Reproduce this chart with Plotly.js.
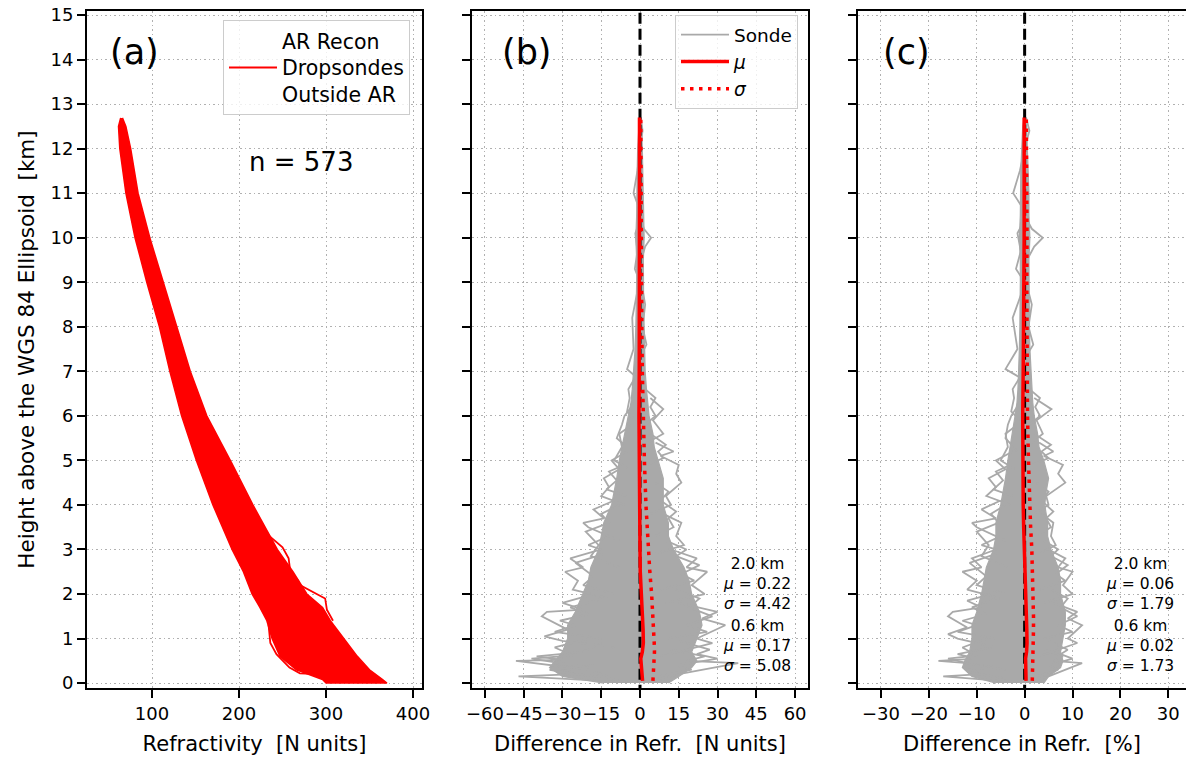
<!DOCTYPE html>
<html>
<head>
<meta charset="utf-8">
<script src="https://cdn.plot.ly/plotly-3.0.1.min.js"></script>
<style>html,body{margin:0;padding:0;background:#fff;}#chart{width:1186px;height:759px;}</style>
</head>
<body>
<div id="chart"></div>
<script>
// ---------------- DATA ----------------
// Panel (a): envelope of the 573 refractivity profiles
const aHeights = [12.69, 12.5, 12.0, 11.0, 10.0, 9.0, 8.0, 7.0, 6.0, 5.0, 4.0, 3.0, 2.5, 2.0, 1.7, 1.4, 1.0, 0.6, 0.3, 0.08, 0.0];
const aLeftN   = [64, 61.5, 63, 70, 80.5, 94, 108.5, 120.5, 134, 151, 170, 192, 205, 215, 224, 232, 238, 247, 266, 296, 300];
const aRightN  = [66, 70, 75.5, 84, 97.5, 113, 128.5, 144, 163, 190, 216, 244, 262, 278, 296, 305, 320, 336, 350, 365, 370];
// outlying profiles (N units, height km)
const aLoop1 = [[232,3.35],[250,3.05],[257,2.8],[259,2.5],[268,2.3],[270,2.2],[299,1.9],[301,1.65],[308,1.4]];
const aLoop2 = [[236,1.45],[234,1.3],[236,0.9],[243,0.65],[258,0.35],[270,0.22],[290,0.2],[293,0.14],[300,0.1]];

// Panels (b),(c): envelope of the dense core of sonde differences
const envH = [0, 0.15, 0.35, 0.5, 0.7, 1.0, 1.3, 1.6, 2.0, 2.3, 2.6, 3.0, 3.3, 3.6, 4.0, 4.3, 4.6, 5.0, 5.3, 5.6, 6.0, 6.3, 6.6, 7.0, 7.5, 8.0, 8.5, 9.0, 9.5, 10.0, 10.5, 11.0, 11.5, 12.0, 12.5, 12.7];
const coreLeftB  = [-14, -30, -35, -33, -30, -28, -28, -25, -22, -20, -19, -16, -15, -14, -11, -10, -9, -8, -7, -6, -4.5, -3.5, -3, -2.4, -1.9, -1.6, -1.4, -1.3, -1.3, -1.6, -1.3, -1.3, -1.1, -0.9, -0.6, -0.2];
const coreRightB = [11, 15, 20, 22, 20, 22, 24, 23, 20, 19, 17, 13, 11, 11, 9, 9, 9, 7, 5.5, 5, 3.5, 3, 2.5, 2, 1.8, 1.6, 1.4, 1.3, 1.3, 1.6, 1.3, 1.3, 1.1, 0.9, 0.6, 0.3];
const coreLeftC  = [-6, -11, -13, -12.5, -11.5, -11, -11, -10, -9, -8.5, -8, -6.5, -6, -6, -5, -4.5, -4, -3.5, -3, -2.6, -2, -1.6, -1.4, -1.2, -1.1, -1, -0.9, -0.9, -0.9, -1.1, -0.9, -0.9, -0.8, -0.6, -0.4, -0.1];
const coreRightC = [4, 5, 7.5, 8, 7.5, 8, 8.5, 8.5, 7.5, 7.5, 7, 5.5, 4.8, 4.8, 4.2, 4.5, 5, 4, 3, 2.7, 2, 1.7, 1.5, 1.3, 1.1, 1.0, 0.9, 0.9, 0.9, 1.1, 0.9, 0.9, 0.8, 0.6, 0.4, 0.2];

// individual outlying sonde difference profiles, panel (b) [N units, km]
const sondeB1  = [[-8,0.05],[-20,0.3],[-48,0.5],[-30,0.52],[-40,0.6],[-22,0.7],[-15,0.9]];
const sondeB2  = [[-5,0.02],[-47,0.15],[-25,0.2],[-35,0.3],[-18,0.4]];
const sondeB3  = [[-10,0.8],[-30,0.95],[-37,1.05],[-28,1.2],[-38,1.5],[-36,1.6],[-22,1.65],[-30,1.8],[-18,2.0]];
const sondeB4  = [[-12,1.9],[-26,2.1],[-24,2.3],[-29,2.5],[-22,2.6],[-27,2.8],[-15,3.0],[-20,3.1],[-12,3.3]];
const sondeB5  = [[-8,3.2],[-20,3.5],[-22,3.6],[-14,3.7],[-18,3.9],[-10,4.1]];
const sondeB6  = [[-6,4.0],[-15,4.2],[-12,4.4],[-14,4.6],[-8,4.8],[-11,5.0],[-5,5.2]];
const sondeB7  = [[-3,5.2],[-9,5.5],[-7,5.8],[-6,6.0],[-2,6.3]];
const sondeB8  = [[5,0.05],[15,0.2],[38,0.45],[18,0.5],[25,0.6],[12,0.75]];
const sondeB9  = [[8,0.6],[28,0.9],[22,1.0],[33,1.3],[24,1.45],[30,1.6],[15,1.8]];
const sondeB10 = [[10,1.8],[25,2.0],[20,2.2],[26,2.5],[18,2.6],[22,2.8],[12,3.0]];
const sondeB11 = [[6,2.9],[17,3.1],[14,3.3],[16,3.6],[9,3.8]];
const sondeB12 = [[4,3.8],[12,4.0],[10,4.2],[16,4.5],[14,4.7],[15,4.9],[8,5.1],[13,5.2],[6,5.4]];
const sondeB13 = [[3,5.4],[9,5.6],[5,5.9],[9,6.15],[4,6.4]];
const sondeB14 = [[0,6.8],[-5,7.05],[-2.5,7.5],[-3,8.2],[-1,8.8]];
const sondeB15 = [[0,9.4],[2,9.8],[4.3,10.0],[1.5,10.2],[0,10.5]];
const sondeB16 = [[0,10.6],[-2.5,11.0],[-1,11.5],[0,12.0]];
const sondeB17 = [[0,12.0],[1,12.4],[0.3,12.7]];
const sondeB18 = [[-10,0.1],[-32,0.25],[-20,0.35],[-42,0.55],[-26,0.62],[-33,0.8],[-20,1.0]];
const sondeB19 = [[-15,1.0],[-33,1.15],[-25,1.3],[-31,1.4],[-20,1.55],[-27,1.7],[-14,1.9]];
const sondeB20 = [[-10,2.0],[-22,2.2],[-18,2.4],[-25,2.7],[-14,2.9]];
const sondeB21 = [[-8,2.6],[-19,2.85],[-16,3.1],[-21,3.4],[-12,3.6],[-15,3.8],[-8,4.0]];
const sondeB22 = [[-5,4.2],[-13,4.35],[-9,4.55],[-12,4.75],[-6,4.9]];
const sondeB23 = [[-4,4.8],[-10,5.0],[-7,5.3],[-8,5.6],[-3,5.8]];
const sondeB24 = [[3,0.1],[20,0.3],[14,0.4],[30,0.55],[22,0.65],[27,0.75],[15,0.95]];
const sondeB25 = [[10,1.0],[26,1.15],[18,1.3],[28,1.5],[19,1.7],[23,1.9],[14,2.1]];
const sondeB26 = [[8,2.1],[21,2.3],[16,2.45],[23,2.65],[14,2.85],[18,3.0],[10,3.2]];
const sondeB27 = [[6,3.3],[13,3.5],[11,3.7],[14,3.85],[8,4.1],[11,4.3],[6,4.5]];
const sondeB28 = [[3,4.9],[9,5.05],[7,5.2],[10,5.35],[4,5.6]];
const sondeB29 = [[2,5.8],[6,6.0],[4,6.2],[6,6.4],[2,6.6]];
const sondeB30 = [[-2,5.9],[-5,6.1],[-4,6.4],[-4.5,6.6],[-1.5,6.9]];
const sondeB31 = [[-1,7.2],[2.5,7.6],[1,8.0],[2,8.5],[0.5,9.0]];
const sondeB32 = [[0,9.0],[-2,9.3],[-1,9.7],[-1.8,10.1],[0,10.4]];

// individual outlying sonde difference profiles, panel (c) [%, km]
const sondeC1  = [[-5,0.05],[-17,0.15],[-9,0.2],[-12,0.3],[-6,0.4]];
const sondeC2  = [[-4,0.3],[-12,0.45],[-18,0.5],[-10,0.55],[-14,0.65],[-7,0.8]];
const sondeC3  = [[-6,0.8],[-14,1.0],[-16,1.1],[-12,1.25],[-16,1.5],[-15,1.6],[-9,1.7],[-12,1.85],[-7,2.0]];
const sondeC4  = [[-5,1.9],[-12,2.1],[-10,2.3],[-13,2.5],[-9,2.6],[-11,2.8],[-6,3.0],[-9,3.1],[-5,3.3]];
const sondeC5  = [[-4,3.2],[-10,3.5],[-11,3.6],[-6,3.7],[-9,3.9],[-5,4.1]];
const sondeC6  = [[-3,4.0],[-8,4.2],[-6,4.4],[-7.5,4.6],[-4,4.8],[-6,5.0],[-2.5,5.2]];
const sondeC7  = [[-1.5,5.2],[-4,5.5],[-3.5,5.8],[-2.8,6.0],[-1,6.3]];
const sondeC8  = [[2,0.05],[5,0.15],[12,0.45],[6,0.5],[8,0.6],[4,0.75]];
const sondeC9  = [[3,0.6],[11,0.9],[9,1.0],[12,1.3],[9,1.45],[11,1.6],[6,1.8]];
const sondeC10 = [[4,1.8],[10,2.0],[8,2.2],[10,2.5],[7,2.6],[8.5,2.8],[5,3.0]];
const sondeC11 = [[3,2.9],[6.5,3.1],[5.5,3.3],[6,3.6],[3.5,3.8]];
const sondeC12 = [[2,3.8],[5,4.0],[4.5,4.2],[8.5,4.5],[7,4.7],[8,4.9],[4,5.1],[6,5.2],[3,5.4]];
const sondeC13 = [[1.5,5.4],[3.8,5.6],[2.5,5.9],[5.6,6.15],[2,6.4]];
const sondeC14 = [[0,6.8],[-4,7.05],[-1.5,7.5],[-2.5,8.2],[-0.5,8.8]];
const sondeC15 = [[0,9.4],[2,9.8],[3.8,10.0],[1.5,10.2],[0,10.5]];
const sondeC16 = [[0,10.6],[-2.4,11.0],[-1,11.5],[0,12.0]];
const sondeC17 = [[0,12.0],[1,12.4],[0.3,12.7]];
const sondeC18 = [[-4,0.1],[-12,0.25],[-8,0.35],[-16,0.55],[-10,0.62],[-13,0.8],[-8,1.0]];
const sondeC19 = [[-6,1.0],[-14,1.15],[-10,1.3],[-13,1.4],[-8,1.55],[-11,1.7],[-6,1.9]];
const sondeC20 = [[-4,2.0],[-10,2.2],[-8,2.4],[-11.5,2.7],[-6,2.9]];
const sondeC21 = [[-3.5,2.6],[-9,2.85],[-7.5,3.1],[-10,3.4],[-5.5,3.6],[-7,3.8],[-4,4.0]];
const sondeC22 = [[-2.5,4.2],[-6.5,4.35],[-4.5,4.55],[-6,4.75],[-3,4.9]];
const sondeC23 = [[-2,4.8],[-5,5.0],[-3.5,5.3],[-4,5.6],[-1.5,5.8]];
const sondeC24 = [[1,0.1],[7,0.3],[5,0.4],[10,0.55],[7.5,0.65],[9,0.75],[5,0.95]];
const sondeC25 = [[4,1.0],[10,1.15],[7,1.3],[11,1.5],[7.5,1.7],[9,1.9],[5.5,2.1]];
const sondeC26 = [[3,2.1],[8.5,2.3],[6.5,2.45],[9,2.65],[5.5,2.85],[7,3.0],[4,3.2]];
const sondeC27 = [[2.5,3.3],[5.5,3.5],[4.5,3.7],[6,3.85],[3.5,4.1],[5,4.3],[2.5,4.5]];
const sondeC28 = [[1.5,4.9],[5,5.05],[3.5,5.2],[5.5,5.35],[2,5.6]];
const sondeC29 = [[1,5.8],[3.2,6.0],[2.2,6.2],[3.2,6.4],[1,6.6]];
const sondeC30 = [[-1,5.9],[-2.8,6.1],[-2.2,6.4],[-2.5,6.6],[-0.8,6.9]];
const sondeC31 = [[-0.5,7.2],[1.8,7.6],[0.8,8.0],[1.5,8.5],[0.3,9.0]];
const sondeC32 = [[0,9.0],[-1.8,9.3],[-0.8,9.7],[-1.5,10.1],[0,10.4]];

// mean and standard deviation profiles
const statH  = [0.05, 0.2, 0.4, 0.55, 0.7, 0.9, 1.2, 1.5, 2.0, 2.5, 3.0, 3.5, 4.0, 5.0, 6.0, 7.0, 8.0, 9.0, 10.0, 11.0, 12.0, 12.7];
const muB    = [1.0, 0.8, 0.4, 0.3, 0.9, 1.3, 1.2, 0.9, 0.4, 0.1, 0.0, -0.1, -0.3, -0.4, -0.4, -0.3, -0.2, -0.2, -0.2, -0.2, -0.2, -0.2];
const sigmaB = [5.0, 5.2, 5.5, 5.6, 5.6, 5.5, 5.3, 5.1, 4.5, 3.8, 3.2, 2.7, 2.3, 1.7, 1.2, 0.9, 0.7, 0.6, 0.6, 0.5, 0.4, 0.3];
const muC    = [0.3, 0.3, 0.2, 0.2, 0.4, 0.5, 0.45, 0.35, 0.15, 0.0, -0.1, -0.2, -0.3, -0.4, -0.4, -0.3, -0.2, -0.2, -0.1, -0.1, -0.1, -0.1];
const sigmaC = [1.6, 1.65, 1.7, 1.73, 1.8, 1.85, 1.85, 1.85, 1.79, 1.65, 1.5, 1.25, 1.05, 0.8, 0.6, 0.5, 0.45, 0.45, 0.5, 0.45, 0.4, 0.35];

// zero reference line and statistics text
const zeroRefX = [0, 0];
const zeroRefH = [-1, 16];
const statsB = ['2.0 km', '0.22', '4.42', '0.6 km', '0.17', '5.08'];
const statsC = ['2.0 km', '0.06', '1.79', '0.6 km', '0.02', '1.73'];
const nSondes = 573;

// tick values
const ticksA = [100, 200, 300, 400];
const ticksB = [-60, -45, -30, -15, 0, 15, 30, 45, 60];
const ticksC = [-30, -20, -10, 0, 10, 20, 30];
const ticksY = [0,1,2,3,4,5,6,7,8,9,10,11,12,13,14,15];

// ---------------- STYLE ----------------
const FONT = 'DejaVu Sans';
const RED = '#ff0000';
const GREY = '#a9a9a9';
const NB = '\u00a0';
const W = 1186, H = 759;
const px = v => v / W;
const py = v => 1 - v / H;

const traces = [];

// panel (a)
traces.push({
  x: aLeftN.concat(aRightN.slice().reverse()),
  y: aHeights.concat(aHeights.slice().reverse()),
  xaxis: 'x', yaxis: 'y', mode: 'lines', fill: 'toself', fillcolor: RED,
  line: {color: RED, width: 1.5}, showlegend: false, hoverinfo: 'skip'
});
[aLoop1, aLoop2].forEach((ln, i) => traces.push({
  x: ln.map(p => p[0]), y: ln.map(p => p[1]), xaxis: 'x', yaxis: 'y', mode: 'lines',
  line: {color: RED, width: 1.8}, legend: 'legend',
  name: 'AR Recon<br>Dropsondes<br>Outside AR', showlegend: i === 0
}));

function diffPanel(xa, ya, coreL, coreR, lines, mu, sigma, withLegend) {
  traces.push({
    x: coreL.concat(coreR.slice().reverse()),
    y: envH.concat(envH.slice().reverse()),
    xaxis: xa, yaxis: ya, mode: 'lines', fill: 'toself', fillcolor: GREY,
    line: {color: GREY, width: 1.2}, showlegend: false, hoverinfo: 'skip'
  });
  lines.forEach((ln, i) => traces.push({
    x: ln.map(p => p[0]), y: ln.map(p => p[1]), xaxis: xa, yaxis: ya, mode: 'lines',
    line: {color: GREY, width: 1.8}, name: 'Sonde', legend: 'legend2', legendgroup: 's',
    showlegend: withLegend && i === 0
  }));
  traces.push({x: zeroRefX, y: zeroRefH, xaxis: xa, yaxis: ya, mode: 'lines',
    line: {color: '#000', width: 3, dash: '11px,5px'}, showlegend: false, hoverinfo: 'skip'});
  traces.push({x: mu, y: statH, xaxis: xa, yaxis: ya, mode: 'lines',
    line: {color: RED, width: 3.5}, name: '<i>μ</i>', legend: 'legend2', legendgroup: 'm', showlegend: withLegend});
  traces.push({x: sigma, y: statH, xaxis: xa, yaxis: ya, mode: 'lines',
    line: {color: RED, width: 3.5, dash: '3.5px,5.5px'}, name: '<i>σ</i>', legend: 'legend2', legendgroup: 'sd', showlegend: withLegend});
}
diffPanel('x2', 'y2', coreLeftB, coreRightB,
  [sondeB1,sondeB2,sondeB3,sondeB4,sondeB5,sondeB6,sondeB7,sondeB8,sondeB9,sondeB10,sondeB11,sondeB12,sondeB13,sondeB14,sondeB15,sondeB16,sondeB17,
   sondeB18,sondeB19,sondeB20,sondeB21,sondeB22,sondeB23,sondeB24,sondeB25,sondeB26,sondeB27,sondeB28,sondeB29,sondeB30,sondeB31,sondeB32],
  muB, sigmaB, true);
diffPanel('x3', 'y3', coreLeftC, coreRightC,
  [sondeC1,sondeC2,sondeC3,sondeC4,sondeC5,sondeC6,sondeC7,sondeC8,sondeC9,sondeC10,sondeC11,sondeC12,sondeC13,sondeC14,sondeC15,sondeC16,sondeC17,
   sondeC18,sondeC19,sondeC20,sondeC21,sondeC22,sondeC23,sondeC24,sondeC25,sondeC26,sondeC27,sondeC28,sondeC29,sondeC30,sondeC31,sondeC32],
  muC, sigmaC, false);

const yDomain = [py(688), py(11)];
const gridStyle = {showgrid: true, gridcolor: '#b0b0b0', gridwidth: 1, griddash: '1.5px,3px'};
const axisCommon = Object.assign({
  showline: true, linecolor: '#000', linewidth: 2, mirror: true, zeroline: false,
  ticks: 'outside', ticklen: 8, tickwidth: 2, tickcolor: '#000', tickangle: 0,
  tickfont: {family: FONT, size: 18, color: '#000'}, automargin: false
}, gridStyle);

function xAxis(domain, range, tickvals, title, anchor) {
  return Object.assign({}, axisCommon, {
    domain: domain, range: range, tickmode: 'array', tickvals: tickvals, anchor: anchor,
    title: {text: title, font: {family: FONT, size: 21, color: '#000'}, standoff: 14}
  });
}
function yAxis(anchor, showLabels, mirror, title) {
  const a = Object.assign({}, axisCommon, {
    domain: yDomain, range: [-0.11, 15.09], tickmode: 'array', tickvals: ticksY,
    anchor: anchor, showticklabels: showLabels, mirror: mirror
  });
  if (title) a.title = {text: title, font: {family: FONT, size: 21.5, color: '#000'}, standoff: 10};
  return a;
}

const ann = [];
function label(txt, x, y, size) {
  ann.push({text: txt, x: px(x), y: py(y), xref: 'paper', yref: 'paper', showarrow: false,
    font: {family: FONT, size: size, color: '#000'}, xanchor: 'center', yanchor: 'middle'});
}
label('(a)', 134, 52, 35);
label('(b)', 527, 52, 35);
label('(c)', 906, 52, 35);
label('n = ' + nSondes, 301, 162, 26);
function statBlock(s, x) {
  label(s[0] + '<br><i>μ</i> = ' + s[1] + '<br><i>σ</i> = ' + s[2], x, 584, 15.5);
  label(s[3] + '<br><i>μ</i> = ' + s[4] + '<br><i>σ</i> = ' + s[5], x, 646, 15.5);
}
statBlock(statsB, 757);
statBlock(statsC, 1140);

const legendBase = {
  bgcolor: 'rgba(255,255,255,0.8)', bordercolor: '#cccccc', borderwidth: 1,
  xanchor: 'right', yanchor: 'top', itemwidth: 48
};

const layout = {
  width: W, height: H, margin: {l: 0, r: 0, t: 0, b: 0},
  paper_bgcolor: '#fff', plot_bgcolor: '#fff',
  font: {family: FONT, color: '#000'},
  xaxis: xAxis([px(87), px(422)], [25.3, 410.3], ticksA, 'Refractivity' + NB + NB + '[N units]', 'y'),
  xaxis2: xAxis([px(472), px(808)], [-65, 65], ticksB, 'Difference in Refr.' + NB + NB + '[N units]', 'y2'),
  xaxis3: xAxis([px(858), 1], [-34.8, 33.7], ticksC, 'Difference in Refr.' + NB + NB + '[%]', 'y3'),
  yaxis: yAxis('x', true, true, 'Height above the WGS 84 Ellipsoid' + NB + NB + '[km]'),
  yaxis2: yAxis('x2', false, true),
  yaxis3: yAxis('x3', false, false),
  legend: Object.assign({}, legendBase, {x: px(410), y: py(20), font: {family: FONT, size: 20.5, color: '#000'}}),
  legend2: Object.assign({}, legendBase, {x: px(798), y: py(15), font: {family: FONT, size: 18.5, color: '#000'},
    traceorder: 'grouped', tracegroupgap: 0}),
  annotations: ann,
  showlegend: true
};

Plotly.newPlot('chart', traces, layout, {displayModeBar: false, staticPlot: true});
</script>
</body>
</html>
